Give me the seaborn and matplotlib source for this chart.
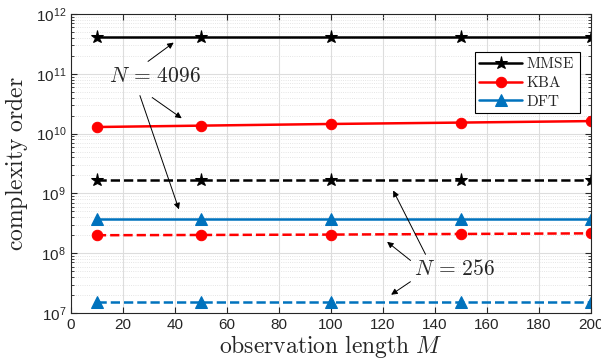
import numpy as np
import pandas as pd
import matplotlib
matplotlib.use('Agg')
import matplotlib.pyplot as plt
import seaborn as sns

# data
M = [10, 50, 100, 150, 200]
mmse_4096 = [4.2e11, 4.2e11, 4.2e11, 4.2e11, 4.2e11]
kba_4096 = [1.29e10, 1.36e10, 1.45e10, 1.53e10, 1.62e10]
dft_4096 = [3.8e8, 3.8e8, 3.8e8, 3.8e8, 3.8e8]
mmse_256 = [1.65e9, 1.65e9, 1.65e9, 1.65e9, 1.65e9]
kba_256 = [2.0e8, 2.02e8, 2.05e8, 2.1e8, 2.15e8]
dft_256 = [1.55e7, 1.55e7, 1.55e7, 1.55e7, 1.55e7]

sns.set_style('ticks')
plt.rcParams['font.family'] = ['Liberation Sans', 'DejaVu Sans']
plt.rcParams['mathtext.fontset'] = 'cm'

rows = []
for name, n, vals in [('MMSE', 4096, mmse_4096), ('KBA', 4096, kba_4096), ('DFT', 4096, dft_4096),
                      ('MMSE', 256, mmse_256), ('KBA', 256, kba_256), ('DFT', 256, dft_256)]:
    for m, v in zip(M, vals):
        rows.append({'method': name, 'N': n, 'M': m, 'value': v})
df = pd.DataFrame(rows)

colors = {'MMSE': 'black', 'KBA': '#ff0000', 'DFT': '#0072BD'}
markers = {'MMSE': '*', 'KBA': 'o', 'DFT': '^'}
msizes = {'MMSE': 9.5, 'KBA': 7.5, 'DFT': 8}

fig = plt.figure(figsize=(6.01, 3.64), dpi=100)
ax = fig.add_axes([0.118, 0.14, 0.865, 0.8215])

for n, ls in [(4096, '-'), (256, '--')]:
    for name in ['MMSE', 'KBA', 'DFT']:
        sub = df[(df['method'] == name) & (df['N'] == n)]
        sns.lineplot(data=sub, x='M', y='value', ax=ax, color=colors[name], linestyle=ls,
                     marker=markers[name], markersize=msizes[name], markeredgecolor=colors[name],
                     linewidth=1.8, label=name if n == 4096 else None, legend=False)

ax.set_yscale('log')
ax.set_xlim(0, 200)
ax.set_ylim(1e7, 1e12)
ax.set_xticks(np.arange(0, 201, 20))
ax.grid(True, which='major', color='#dddddd', linewidth=0.8)
ax.grid(True, which='minor', axis='y', color='#dddddd', linestyle=':', linewidth=0.6)
ax.set_axisbelow(True)
ax.tick_params(direction='in', which='both', top=True, right=True, labelsize=11, colors='#262626')
ax.tick_params(which='major', length=4)
ax.tick_params(which='minor', length=2)
for s in ax.spines.values():
    s.set_color('#262626')
    s.set_linewidth(0.8)

ax.set_xlabel(r'$\mathrm{observation\ length}\ M$', fontsize=17, labelpad=1)
ax.set_ylabel(r'$\mathrm{complexity\ order}$', fontsize=17, labelpad=4)

leg = ax.legend(loc='upper right', bbox_to_anchor=(0.993, 0.9), fancybox=False, framealpha=1,
                edgecolor='black', handlelength=2.8, borderpad=0.3, labelspacing=0.25,
                handletextpad=0.3, prop={'family': 'DejaVu Serif', 'size': 11})
for t in leg.get_texts():
    t.set_text(r'$\mathrm{%s}$' % t.get_text())
leg.get_frame().set_linewidth(0.8)

arrow = dict(arrowstyle='-|>', color='black', lw=0.7, mutation_scale=9)
ax.text(32.5, 10**10.95, r'$N\,=\,4096$', fontsize=15.5, ha='center', va='center')
ax.annotate('', xy=(40.4, 10**11.55), xytext=(28.8, 10**11.18), arrowprops=arrow)
ax.annotate('', xy=(43.5, 10**10.23), xytext=(30.4, 10**10.63), arrowprops=arrow)
ax.annotate('', xy=(41.9, 10**8.69), xytext=(26.2, 10**10.68), arrowprops=arrow)

ax.text(147.7, 10**7.72, r'$N\,=\,256$', fontsize=15.5, ha='center', va='center')
ax.annotate('', xy=(123.5, 10**9.09), xytext=(136.9, 10**7.94), arrowprops=arrow)
ax.annotate('', xy=(120.8, 10**8.22), xytext=(131.5, 10**7.85), arrowprops=arrow)
ax.annotate('', xy=(122.3, 10**7.28), xytext=(131.5, 10**7.55), arrowprops=arrow)

fig.savefig('out.png', dpi=100)
